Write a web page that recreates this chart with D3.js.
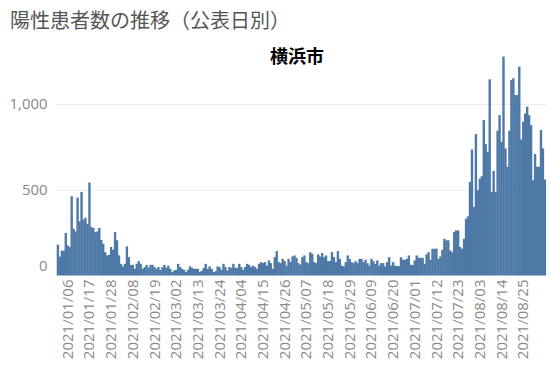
<!DOCTYPE html>
<html>
<head>
<meta charset="utf-8">
<script src="https://cdn.jsdelivr.net/npm/d3@7"></script>
<style>
  body { margin: 0; background: #fff; }
  svg { display: block; }
</style>
</head>
<body>
<svg id="chart"></svg>
<script>
const width = 550;
const height = 373;

const titleText = "陽性患者数の推移（公表日別）";
const cityName = "横浜市";
const firstDay = "2021-01-01";

// daily positives, 2021/01/01 .. 2021/09/06
const janValues = [180, 110, 145, 145, 248, 175, 166, 462, 273, 257, 454, 316, 487, 327, 337, 300,
    542, 283, 277, 253, 257, 277, 208, 185, 136, 117, 121, 166, 150, 253, 205, 117, 68, 53, 68, 170,
    107, 62, 62, 39];
const febAprValues = [68, 84, 68, 39, 49, 62, 45, 62, 62, 49, 39, 49, 33, 49, 62, 45, 57, 39, 20, 29,
    33, 68, 49, 39, 33, 20, 33, 53, 45, 39, 39, 39, 20, 29, 45, 68, 39, 53, 39, 20, 25, 53, 49, 33,
    68, 49, 29, 49, 45, 68, 45, 45, 68, 49, 33, 49, 68, 62, 49, 58, 49, 39, 68, 78];
const aprJunValues = [72, 78, 58, 88, 72, 39, 107, 142, 78, 72, 97, 84, 58, 97, 78, 111, 117, 103, 72,
    64, 107, 117, 78, 72, 136, 127, 78, 72, 123, 111, 131, 107, 117, 84, 84, 136, 107, 78, 142, 97,
    58, 53, 78, 117, 97, 78, 72, 84, 72, 97, 97, 78, 92, 72, 58, 97, 84, 68, 88, 58, 72, 72, 53, 78];
const junJulValues = [107, 58, 78, 58, 55, 55, 107, 92, 92, 97, 117, 62, 62, 88, 117, 103, 103, 103, 68,
    123, 136, 92, 156, 156, 156, 97, 111, 150, 214, 205, 205, 146, 136, 253, 263, 263, 166, 156, 214,
    331, 345];
const augSepValues = [546, 735, 400, 824, 497, 565, 579, 906, 766, 721, 1144, 487, 610, 487, 844, 935,
    780, 1277, 741, 634, 844, 1140, 1150, 1052, 1052, 1218, 793, 897, 945, 984, 935, 877, 556, 708,
    634, 634, 848, 741, 560];

const tickLabels = ["2021/01/06", "2021/01/17", "2021/01/28", "2021/02/08", "2021/02/19", "2021/03/02",
    "2021/03/13", "2021/03/24", "2021/04/04", "2021/04/15", "2021/04/26", "2021/05/07", "2021/05/18",
    "2021/05/29", "2021/06/09", "2021/06/20", "2021/07/01", "2021/07/12", "2021/07/23", "2021/08/03",
    "2021/08/14", "2021/08/25"];
const yTicks = [0, 500, 1000];

const values = [].concat(janValues, febAprValues, aprJunValues, junJulValues, augSepValues);
const fmt = d3.timeFormat("%Y/%m/%d");
const start = d3.timeParse("%Y-%m-%d")(firstDay);
const days = values.map((v, i) => ({ date: fmt(d3.timeDay.offset(start, i)), value: v }));

const margin = { left: 56.7, right: 4.3, top: 40, bottom: 97.5 };
const plotBottom = height - margin.bottom;

const svg = d3.select("#chart")
    .attr("width", width)
    .attr("height", height);

const x = d3.scaleBand()
    .domain(days.map(d => d.date))
    .range([margin.left, width - margin.right])
    .padding(0);

const y = d3.scaleLinear()
    .domain([0, 1000])
    .range([plotBottom, plotBottom - 171.5]);

// gridlines
svg.append("g")
    .selectAll("line")
    .data(yTicks.filter(t => t > 0))
    .join("line")
    .attr("x1", margin.left)
    .attr("x2", width - margin.right)
    .attr("y1", d => Math.round(y(d)) + 0.5)
    .attr("y2", d => Math.round(y(d)) + 0.5)
    .attr("stroke", "#ebebeb")
    .attr("stroke-width", 1);

// bars
svg.append("g")
    .selectAll("rect")
    .data(days)
    .join("rect")
    .attr("x", d => x(d.date))
    .attr("width", x.bandwidth() + 0.4)
    .attr("y", d => y(d.value))
    .attr("height", d => y(0) - y(d.value))
    .attr("fill", "#4e79a7");

// y axis labels
const yAxis = svg.append("g")
    .attr("transform", `translate(${margin.left - 9},0)`)
    .call(d3.axisLeft(y).tickValues(yTicks).tickSize(0).tickFormat(d3.format(",")));
yAxis.select(".domain").remove();
yAxis.selectAll("text")
    .attr("x", 0)
    .attr("dy", d => d === 0 ? "-0.35em" : "0.32em")
    .attr("fill", "#8a8a8a")
    .attr("font-family", "'Open Sans', sans-serif")
    .attr("font-size", "15px");

// x axis labels
const xAxis = svg.append("g")
    .attr("transform", `translate(0,${plotBottom})`)
    .call(d3.axisBottom(x).tickValues(tickLabels).tickSize(0));
xAxis.select(".domain").remove();
xAxis.selectAll("text")
    .attr("transform", "rotate(-90)")
    .attr("text-anchor", "end")
    .attr("x", -4)
    .attr("y", 0)
    .attr("dy", "0.35em")
    .attr("fill", "#8a8a8a")
    .attr("font-family", "'Open Sans', sans-serif")
    .attr("font-size", "15px");

// titles
svg.append("text")
    .attr("x", 10)
    .attr("y", 28)
    .attr("fill", "#555")
    .attr("font-family", "'Noto Sans CJK JP', sans-serif")
    .attr("font-size", "20px")
    .text(titleText);

svg.append("text")
    .attr("x", 297)
    .attr("y", 63)
    .attr("text-anchor", "middle")
    .attr("fill", "#000")
    .attr("font-family", "'Noto Sans CJK JP', sans-serif")
    .attr("font-weight", "bold")
    .attr("font-size", "18px")
    .text(cityName);
</script>
</body>
</html>
